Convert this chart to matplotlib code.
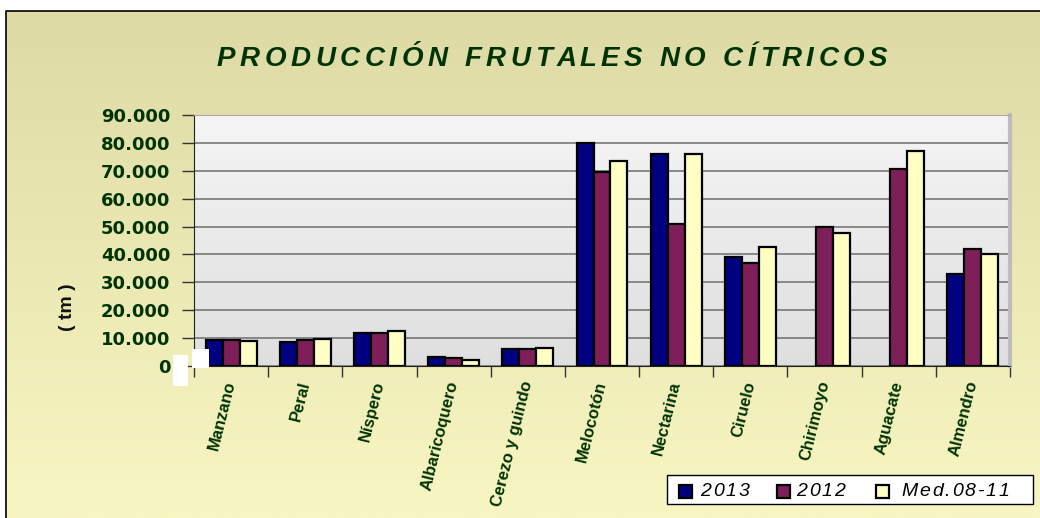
import numpy as np
import matplotlib
matplotlib.use('Agg')
import matplotlib.pyplot as plt
from matplotlib.patches import Rectangle
from matplotlib.colors import LinearSegmentedColormap

# ---------------- data ----------------
categories = ['Manzano', 'Peral', 'Níspero', 'Albaricoquero', 'Cerezo y guindo',
              'Melocotón', 'Nectarina', 'Ciruelo', 'Chirimoyo', 'Aguacate', 'Almendro']
series_names = ['2013', '2012', 'Med.08-11']
v2013 = [9200, 8700, 11900, 3300, 6100, 79800, 76100, 39200, 0, 0, 33100]
v2012 = [9300, 9200, 11900, 2900, 6100, 69500, 51000, 37000, 49900, 70500, 41900]
vmed = [8800, 9700, 12500, 2300, 6600, 73600, 76100, 42800, 47600, 77200, 40300]
yticks = [0, 10000, 20000, 30000, 40000, 50000, 60000, 70000, 80000, 90000]
title = 'PRODUCCIÓN FRUTALES NO CÍTRICOS'
ylabel = '( tm )'

colors = ['#000080', '#7F1F5A', '#FFFFC4']
green = '#003300'

W, H = 1040, 518
fig = plt.figure(figsize=(W / 100, H / 100), dpi=100)
fig.patch.set_facecolor('white')


def fx(x):
    return x / W


def fy(y):
    return 1 - y / H


# ---------------- figure background ----------------
bg = fig.add_axes([0, 0, 1, 1], zorder=-10)
bg.axis('off')
cm_bg = LinearSegmentedColormap.from_list('bg', ['#DDDAA5', '#F8F6C2'])
grad = np.linspace(0, 1, 256).reshape(-1, 1)
bg.imshow(grad, extent=[6, W, H, 11], aspect='auto', cmap=cm_bg, origin='upper')
bg.plot([6, 6, W], [H, 11, 11], color='black', lw=1.2)
bg.set_xlim(0, W)
bg.set_ylim(H, 0)

# ---------------- main axes ----------------
ax = fig.add_axes([fx(194), fy(366), fx(1010 - 194), (366 - 115) / H])
cm_pl = LinearSegmentedColormap.from_list('pl', ['#F5F5F5', '#DFDFDF'])
ax.imshow(grad, extent=[-0.5, len(categories) - 0.5, 0, 90000], aspect='auto',
          cmap=cm_pl, origin='upper', zorder=0)

x = np.arange(len(categories))
bw = 0.229
series = [v2013, v2012, vmed]
for i, (vals, c) in enumerate(zip(series, colors)):
    hv = np.array(vals, dtype=float)
    hv[hv == 0] = np.nan
    ax.bar(x + (i - 1) * bw, hv, width=bw, color=c, edgecolor='black',
           linewidth=1.6, zorder=3)

ax.set_xlim(-0.5, len(categories) - 0.5)
ax.set_ylim(0, 90000)
ax.set_axisbelow(True)
ax.yaxis.grid(True, color='#6E6E6E', lw=1.1, zorder=1)

ax.set_yticks(yticks)
ax.set_yticklabels([f'{v:,.0f}'.replace(',', '.') for v in yticks])
ax.tick_params(axis='y', length=9, width=1, color='#333333', pad=8,
               labelsize=13, labelcolor=green)
for lb in ax.get_yticklabels():
    lb.set_fontfamily('DejaVu Sans')
    lb.set_fontweight('bold')

ax.set_xticks(x)
ax.set_xticklabels(categories)
ax.set_xticks(np.arange(-0.5, len(categories), 1), minor=True)
ax.tick_params(axis='x', which='major', length=0, pad=11)
ax.tick_params(axis='x', which='minor', length=8, width=1, color='#333333')
for lb in ax.get_xticklabels():
    lb.set_rotation(76)
    lb.set_rotation_mode('anchor')
    lb.set_ha('right')
    lb.set_va('center')
    lb.set_fontfamily('Liberation Sans')
    lb.set_fontweight('bold')
    lb.set_fontsize(12)
    lb.set_color(green)

ax.spines['left'].set_color('#222222')
ax.spines['bottom'].set_color('#222222')
ax.spines['top'].set_color('#A8A8A8')
ax.spines['right'].set_color('#BDBDBD')
ax.spines['right'].set_linewidth(3)

# ---------------- spaced text helper ----------------
renderer = fig.canvas.get_renderer()


def spaced_text(x_px, y_px, s, track, ha='left', **kw):
    ref = fig.text(0, 0, 'x', **kw)
    wx = ref.get_window_extent(renderer).width
    ref.remove()
    offs = []
    for i in range(len(s) + 1):
        t = fig.text(0, 0, s[:i] + 'x', **kw)
        offs.append(t.get_window_extent(renderer).width - wx + i * track)
        t.remove()
    total = offs[-1] - track
    x0 = x_px - total / 2 if ha == 'center' else x_px
    for i, ch in enumerate(s):
        if ch == ' ':
            continue
        fig.text(fx(x0 + offs[i]), fy(y_px), ch, ha='left', va='center', **kw)


# title
spaced_text(552, 59, title, 4.6, ha='center', fontsize=20, fontweight='bold',
            fontstyle='italic', color=green, family='Liberation Sans')

# y label
fig.text(fx(67), fy(307), ylabel, rotation=90, ha='center', va='center',
         fontsize=14, fontweight='bold', color='#111111', family='Liberation Sans')

# ---------------- legend (drawn manually) ----------------
fig.add_artist(Rectangle((fx(667), fy(504)), fx(1033 - 667), (504 - 475) / H,
                         transform=fig.transFigure, facecolor='white',
                         edgecolor='black', lw=1.0, zorder=5))
sq_x = [679, 777, 876]
tx_x = [700, 796, 901]
for c, sx, tx, name in zip(colors, sq_x, tx_x, series_names):
    fig.add_artist(Rectangle((fx(sx), fy(498)), fx(13), 13 / H,
                             transform=fig.transFigure, facecolor=c,
                             edgecolor='black', lw=1.6, zorder=6))
    spaced_text(tx, 491, name, 1.9, fontsize=14, fontstyle='italic',
                color='black', family='Liberation Sans', zorder=7)

# white artifact patches near origin
fig.add_artist(Rectangle((fx(173), fy(386)), fx(15), 31 / H,
                         transform=fig.transFigure, facecolor='white',
                         edgecolor='none', zorder=8))
fig.add_artist(Rectangle((fx(192), fy(368)), fx(17), 19 / H,
                         transform=fig.transFigure, facecolor='white',
                         edgecolor='none', zorder=8))

fig.savefig('out.png', dpi=100)
